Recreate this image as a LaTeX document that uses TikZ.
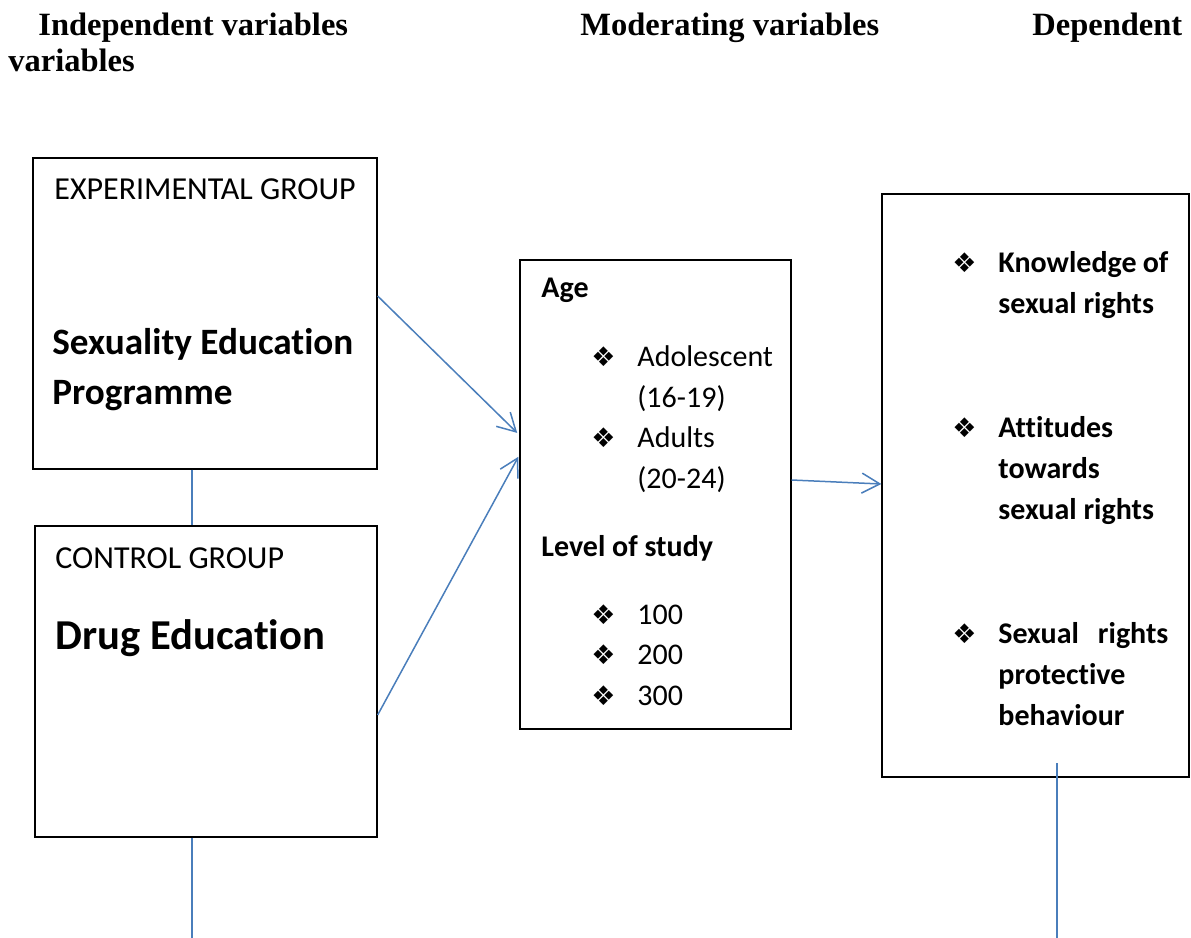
\documentclass[tikz,border=0pt]{standalone}
\usepackage{fontspec}
\setmainfont{Carlito}[Ligatures=NoCommon]
\newfontfamily\headfont{Liberation Serif}
\newfontfamily\dingfont{DejaVu Sans}
\usepackage{xcolor}
\usetikzlibrary{arrows.meta,fit}

\definecolor{linkblue}{HTML}{4A7EBB}
\newcommand{\dia}{{\dingfont\char"2756}}

\begin{document}
\begin{tikzpicture}[x=0.5pt, y=-0.5pt, >={Straight Barb[length=9pt,width=10pt]},
  box/.style={draw, line width=0.65pt, inner sep=0pt},
  hd/.style={anchor=base west, inner sep=0pt, font=\headfont\bfseries\fontsize{16.25}{19}\selectfont},
  txt/.style={anchor=base west, inner sep=0pt, align=flush left, font=\fontsize{15}{20.5}\selectfont},
  grp/.style={txt, font=\fontsize{16}{20.5}\selectfont},
  bold/.style={txt, font=\fontsize{15}{20.5}\selectfont\bfseries},
  item/.style={bold, text width=85pt},
  bul/.style={anchor=base west, inner sep=0pt, font=\fontsize{13.5}{14}\selectfont},
  link/.style={draw=linkblue, line width=0.75pt}]
\useasboundingbox (0,0) rectangle (1191,938);

% column headings
\node[hd] (ind-hd) at (38,35) {Independent variables};
\node[hd] (ind-hd2) at (8,71) {variables};
\node[hd] (mod-hd) at (580,35) {Moderating variables};
\node[hd] (dep-hd) at (1032,35) {Dependent};

% boxes
\node[box, fit={(33,158) (377,469)}] (exp) {};
\node[box, fit={(35,526) (377,837)}] (ctl) {};
\node[box, fit={(520,260) (791,729)}] (mod) {};
\node[box, fit={(882,194) (1189,777)}] (dep) {};

% groups
\node[grp] (exp-t) at (54,199) {EXPERIMENTAL GROUP};
\node[txt, text width=155pt, font=\fontsize{18.6}{25}\selectfont\bfseries] (exp-p) at (52,354) {Sexuality Education\\Programme};
\node[grp] (ctl-t) at (55,568) {CONTROL GROUP};
\node[txt, font=\fontsize{21.3}{25}\selectfont\bfseries] (ctl-p) at (55,649) {Drug Education};

% moderating variables
\node[bold] (age) at (541,297) {Age};
\node[txt, text width=70pt] (adol) at (637,366) {Adolescent\\(16-19)};
\node[txt, text width=70pt] (adult) at (637,447) {Adults\\(20-24)};
\node[bold] (lev) at (541,556) {Level of study};
\node[txt] (l100) at (637,624) {100};
\node[txt] (l200) at (637,664) {200};
\node[txt] (l300) at (637,705) {300};
\foreach \y in {366,447,624,664,705}
  \node[bul] (mb\y) at (591,\y) {\dia};

% dependent variables
\node[item] (know) at (998,272) {Knowledge\hfill of\\sexual rights};
\node[item] (att) at (998,437) {Attitudes\\towards\\sexual rights};
\node[item] (prot) at (998,643) {Sexual\hfill rights\\protective\\behaviour};
\foreach \y in {272,437,643}
  \node[bul] (db\y) at (952,\y) {\dia};

% connectors
\coordinate (ctl-out) at (192,938);
\coordinate (dep-in) at (1057,763);
\coordinate (dep-out) at (1057,938);
\draw[link] (exp.south -| ctl-out) -- (ctl.north -| ctl-out);
\draw[link] (ctl.south -| ctl-out) -- (ctl-out);
\draw[link] (dep-in) -- (dep-out);
\draw[link, ->, shorten >=1.5pt] ([yshift=8.75pt]exp.east) -- ([yshift=29.75pt]mod.west);
\draw[link, ->, shorten >=1pt] ([yshift=-16.75pt]ctl.east) -- ([yshift=19.75pt]mod.west);
\draw[link, ->] ([yshift=7.25pt]mod.east) -- ([yshift=0.75pt]dep.west);
\end{tikzpicture}
\end{document}
